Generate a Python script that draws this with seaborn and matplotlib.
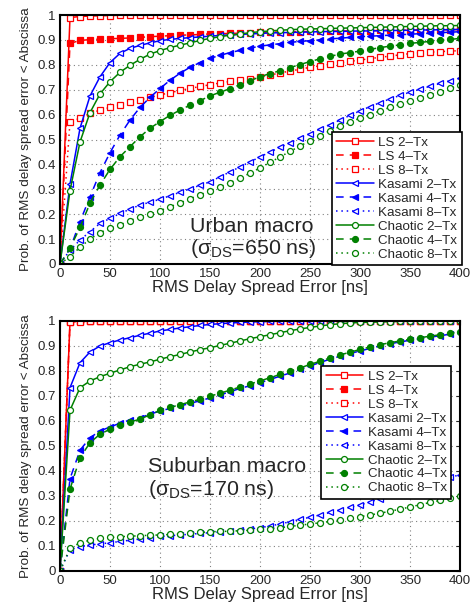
import numpy as np
import pandas as pd
import matplotlib
matplotlib.use("Agg")
import matplotlib.pyplot as plt
import seaborn as sns

# error axis, one marker every 10 ns
err_ns = list(range(0, 410, 10))

series_names = ["LS 2–Tx", "LS 4–Tx", "LS 8–Tx",
                "Kasami 2–Tx", "Kasami 4–Tx", "Kasami 8–Tx",
                "Chaotic 2–Tx", "Chaotic 4–Tx", "Chaotic 8–Tx"]

# ---- Urban macro (sigma_DS = 650 ns) ----
urban_ls2 = [0, .990, .994, .996, .997, .998, .999, .999, .999, .999,
             1, 1, 1, 1, 1, 1, 1, 1, 1, 1,
             1, 1, 1, 1, 1, 1, 1, 1, 1, 1,
             1, 1, 1, 1, 1, 1, 1, 1, 1, 1,
             1]
urban_ls4 = [0, .886, .898, .901, .903, .905, .906, .908, .910, .913,
             .915, .917, .919, .920, .922, .924, .925, .926, .927, .929,
             .930, .931, .932, .933, .933, .934, .935, .935, .936, .936,
             .937, .937, .938, .938, .939, .939, .940, .940, .941, .941,
             .942]
urban_ls8 = [0, .572, .585, .605, .618, .629, .639, .652, .659, .669,
             .679, .688, .697, .705, .713, .720, .727, .733, .739, .745,
             .752, .759, .767, .775, .782, .790, .796, .802, .808, .814,
             .819, .825, .830, .835, .840, .845, .848, .851, .853, .855,
             .857]
urban_ka2 = [0, .321, .545, .675, .752, .809, .846, .866, .878, .888,
             .897, .902, .906, .909, .912, .915, .918, .920, .922, .924,
             .926, .928, .929, .930, .931, .932, .933, .934, .934, .935,
             .936, .936, .937, .938, .938, .939, .940, .940, .941, .941,
             .942]
urban_ka4 = [0, .060, .170, .270, .367, .447, .518, .578, .629, .669,
             .705, .738, .766, .790, .809, .826, .838, .849, .858, .867,
             .875, .880, .885, .890, .894, .897, .900, .904, .907, .910,
             .913, .915, .917, .919, .921, .923, .925, .927, .929, .931,
             .933]
urban_ka8 = [0, .056, .096, .130, .163, .183, .203, .220, .237, .248,
             .260, .274, .288, .302, .316, .330, .350, .370, .390, .410,
             .430, .450, .468, .487, .506, .524, .542, .560, .578, .597,
             .615, .632, .648, .663, .677, .690, .702, .714, .725, .736,
             .746]
urban_ch2 = [0, .295, .490, .608, .683, .732, .770, .798, .822, .843,
             .857, .869, .879, .888, .898, .906, .913, .919, .924, .929,
             .933, .936, .939, .941, .943, .944, .945, .946, .947, .948,
             .949, .950, .951, .952, .953, .954, .955, .956, .957, .957,
             .958]
urban_ch4 = [0, .063, .147, .244, .317, .380, .431, .471, .511, .545,
             .572, .597, .618, .638, .656, .675, .690, .704, .720, .736,
             .752, .765, .776, .789, .801, .813, .824, .834, .843, .849,
             .855, .862, .869, .875, .880, .886, .890, .894, .898, .902,
             .906]
urban_ch8 = [0, .030, .067, .100, .126, .143, .157, .174, .190, .200,
             .214, .230, .245, .262, .278, .293, .310, .327, .345, .365,
             .386, .408, .430, .452, .474, .495, .516, .535, .553, .570,
             .586, .600, .615, .629, .642, .655, .667, .679, .690, .705,
             .719]

# ---- Suburban macro (sigma_DS = 170 ns) ----
sub_ls2 = [0, .998, 1, 1, 1, 1, 1, 1, 1, 1,
           1, 1, 1, 1, 1, 1, 1, 1, 1, 1,
           1, 1, 1, 1, 1, 1, 1, 1, 1, 1,
           1, 1, 1, 1, 1, 1, 1, 1, 1, 1,
           1]
sub_ls4 = [0, .996, .998, .999, 1, 1, 1, 1, 1, 1,
           1, 1, 1, 1, 1, 1, 1, 1, 1, 1,
           1, 1, 1, 1, 1, 1, 1, 1, 1, 1,
           1, 1, 1, 1, 1, 1, 1, 1, 1, 1,
           1]
sub_ls8 = [0, .994, .997, .998, .999, 1, 1, 1, 1, 1,
           1, 1, 1, 1, 1, 1, 1, 1, 1, 1,
           1, 1, 1, 1, 1, 1, 1, 1, 1, 1,
           1, 1, 1, 1, 1, 1, 1, 1, 1, 1,
           1]
sub_ka2 = [0, .733, .833, .876, .900, .913, .924, .933, .943, .951,
           .960, .966, .972, .977, .982, .986, .989, .992, .994, .996,
           .997, .998, .999, 1, 1, 1, 1, 1, 1, 1,
           1, 1, 1, 1, 1, 1, 1, 1, 1, 1,
           1]
sub_ka4 = [0, .369, .483, .533, .560, .576, .591, .604, .613, .627,
           .640, .650, .660, .670, .681, .692, .704, .717, .730, .741,
           .753, .766, .779, .792, .806, .820, .834, .847, .859, .870,
           .880, .890, .900, .909, .916, .923, .929, .935, .941, .947,
           .952]
sub_ka8 = [0, .085, .097, .104, .108, .113, .118, .123, .128, .133,
           .138, .141, .144, .147, .150, .153, .156, .160, .164, .168,
           .173, .180, .188, .197, .206, .215, .224, .234, .244, .254,
           .264, .276, .289, .302, .316, .329, .341, .352, .363, .374,
           .385]
sub_ch2 = [0, .643, .733, .760, .777, .791, .804, .817, .827, .836,
           .847, .857, .866, .876, .885, .893, .902, .911, .920, .929,
           .937, .945, .953, .961, .968, .974, .980, .985, .989, .992,
           .994, .995, .996, .997, .998, .999, .999, 1, 1, 1,
           1]
sub_ch4 = [0, .327, .453, .513, .547, .567, .583, .596, .607, .625,
           .642, .654, .665, .676, .687, .699, .711, .723, .736, .748,
           .760, .773, .786, .799, .812, .826, .839, .852, .864, .875,
           .886, .896, .905, .913, .920, .927, .933, .939, .945, .951,
           .956]
sub_ch8 = [0, .091, .113, .123, .130, .134, .137, .139, .141, .143,
           .144, .146, .148, .151, .154, .157, .158, .159, .161, .163,
           .166, .169, .173, .178, .183, .188, .193, .198, .204, .210,
           .217, .224, .231, .239, .247, .256, .265, .274, .282, .290,
           .298]

urban = [urban_ls2, urban_ls4, urban_ls8, urban_ka2, urban_ka4, urban_ka8,
         urban_ch2, urban_ch4, urban_ch8]
suburban = [sub_ls2, sub_ls4, sub_ls8, sub_ka2, sub_ka4, sub_ka8,
            sub_ch2, sub_ch4, sub_ch8]

# styles: colour by sequence family, line style by number of Tx
colors = {"LS": "#ff0000", "Kasami": "#0000ff", "Chaotic": "#008000"}
markers = {"LS": "s", "Kasami": "<", "Chaotic": "o"}
dashes = {"2": "-", "4": (0, (5, 4)), "8": (0, (1, 2.5))}

sns.set_style("white")
plt.rcParams["font.family"] = ["Liberation Sans", "DejaVu Sans"]
plt.rcParams["mathtext.fontset"] = "custom"
plt.rcParams["mathtext.rm"] = "Liberation Sans"
plt.rcParams["mathtext.it"] = "Liberation Sans"


def draw_panel(ax, curves, title, legend_anchor, legend_loc):
    for name, vals in zip(series_names, curves):
        fam = name.split()[0]
        ntx = name.split()[1][0]
        df = pd.DataFrame({"err": err_ns, "prob": vals})
        face = colors[fam] if ntx == "4" else "white"
        sns.lineplot(data=df, x="err", y="prob", ax=ax, color=colors[fam],
                     linestyle=dashes[ntx], linewidth=1.1,
                     marker=markers[fam], markersize=4.3,
                     markerfacecolor=face, markeredgecolor=colors[fam],
                     markeredgewidth=0.9, label=name)
    ax.set_xlim(0, 400)
    ax.set_ylim(0, 1)
    ax.set_xticks(range(0, 401, 50))
    ax.set_yticks(np.arange(0, 1.01, 0.1))
    ax.set_yticklabels(["0", "0.1", "0.2", "0.3", "0.4", "0.5",
                        "0.6", "0.7", "0.8", "0.9", "1"])
    ax.grid(True, linestyle=(0, (1, 3)), color="#808080", linewidth=0.8)
    ax.tick_params(direction="in", top=True, right=True, length=3,
                   width=0.8, labelsize=9.5, pad=3)
    for sp in ax.spines.values():
        sp.set_linewidth(1.5)
        sp.set_color("black")
    ax.set_xlabel("RMS Delay Spread Error [ns]", fontsize=12, labelpad=0)
    ax.set_ylabel("Prob. of RMS delay spread error < Abscissa",
                  fontsize=9.7, labelpad=4)
    ax.text(title[0], title[1], title[2], transform=ax.transAxes,
            fontsize=15.4, ha="left", va="top", linespacing=1.1)
    leg = ax.legend(loc=legend_loc, bbox_to_anchor=legend_anchor,
                    borderaxespad=0, fontsize=9.6, handlelength=2.8,
                    handletextpad=0.35, labelspacing=0.12, borderpad=0.35,
                    fancybox=False, framealpha=1, edgecolor="black")
    leg.get_frame().set_linewidth(1.2)


fig = plt.figure(figsize=(4.77, 6.08), dpi=100)
ax1 = fig.add_axes([0.1258, 0.5658, 0.8386, 0.4095])
ax2 = fig.add_axes([0.1258, 0.0609, 0.8386, 0.4112])

draw_panel(ax1, urban,
           (0.325, 0.19, "Urban macro\n(" + r"$\mathrm{σ_{DS}}$" + "=650 ns)"),
           (1.005, -0.005), "lower right")
draw_panel(ax2, suburban,
           (0.22, 0.455, "Suburban macro\n(" + r"$\mathrm{σ_{DS}}$" + "=170 ns)"),
           (0.6525, 0.82), "upper left")

fig.savefig("out.png", dpi=100)
